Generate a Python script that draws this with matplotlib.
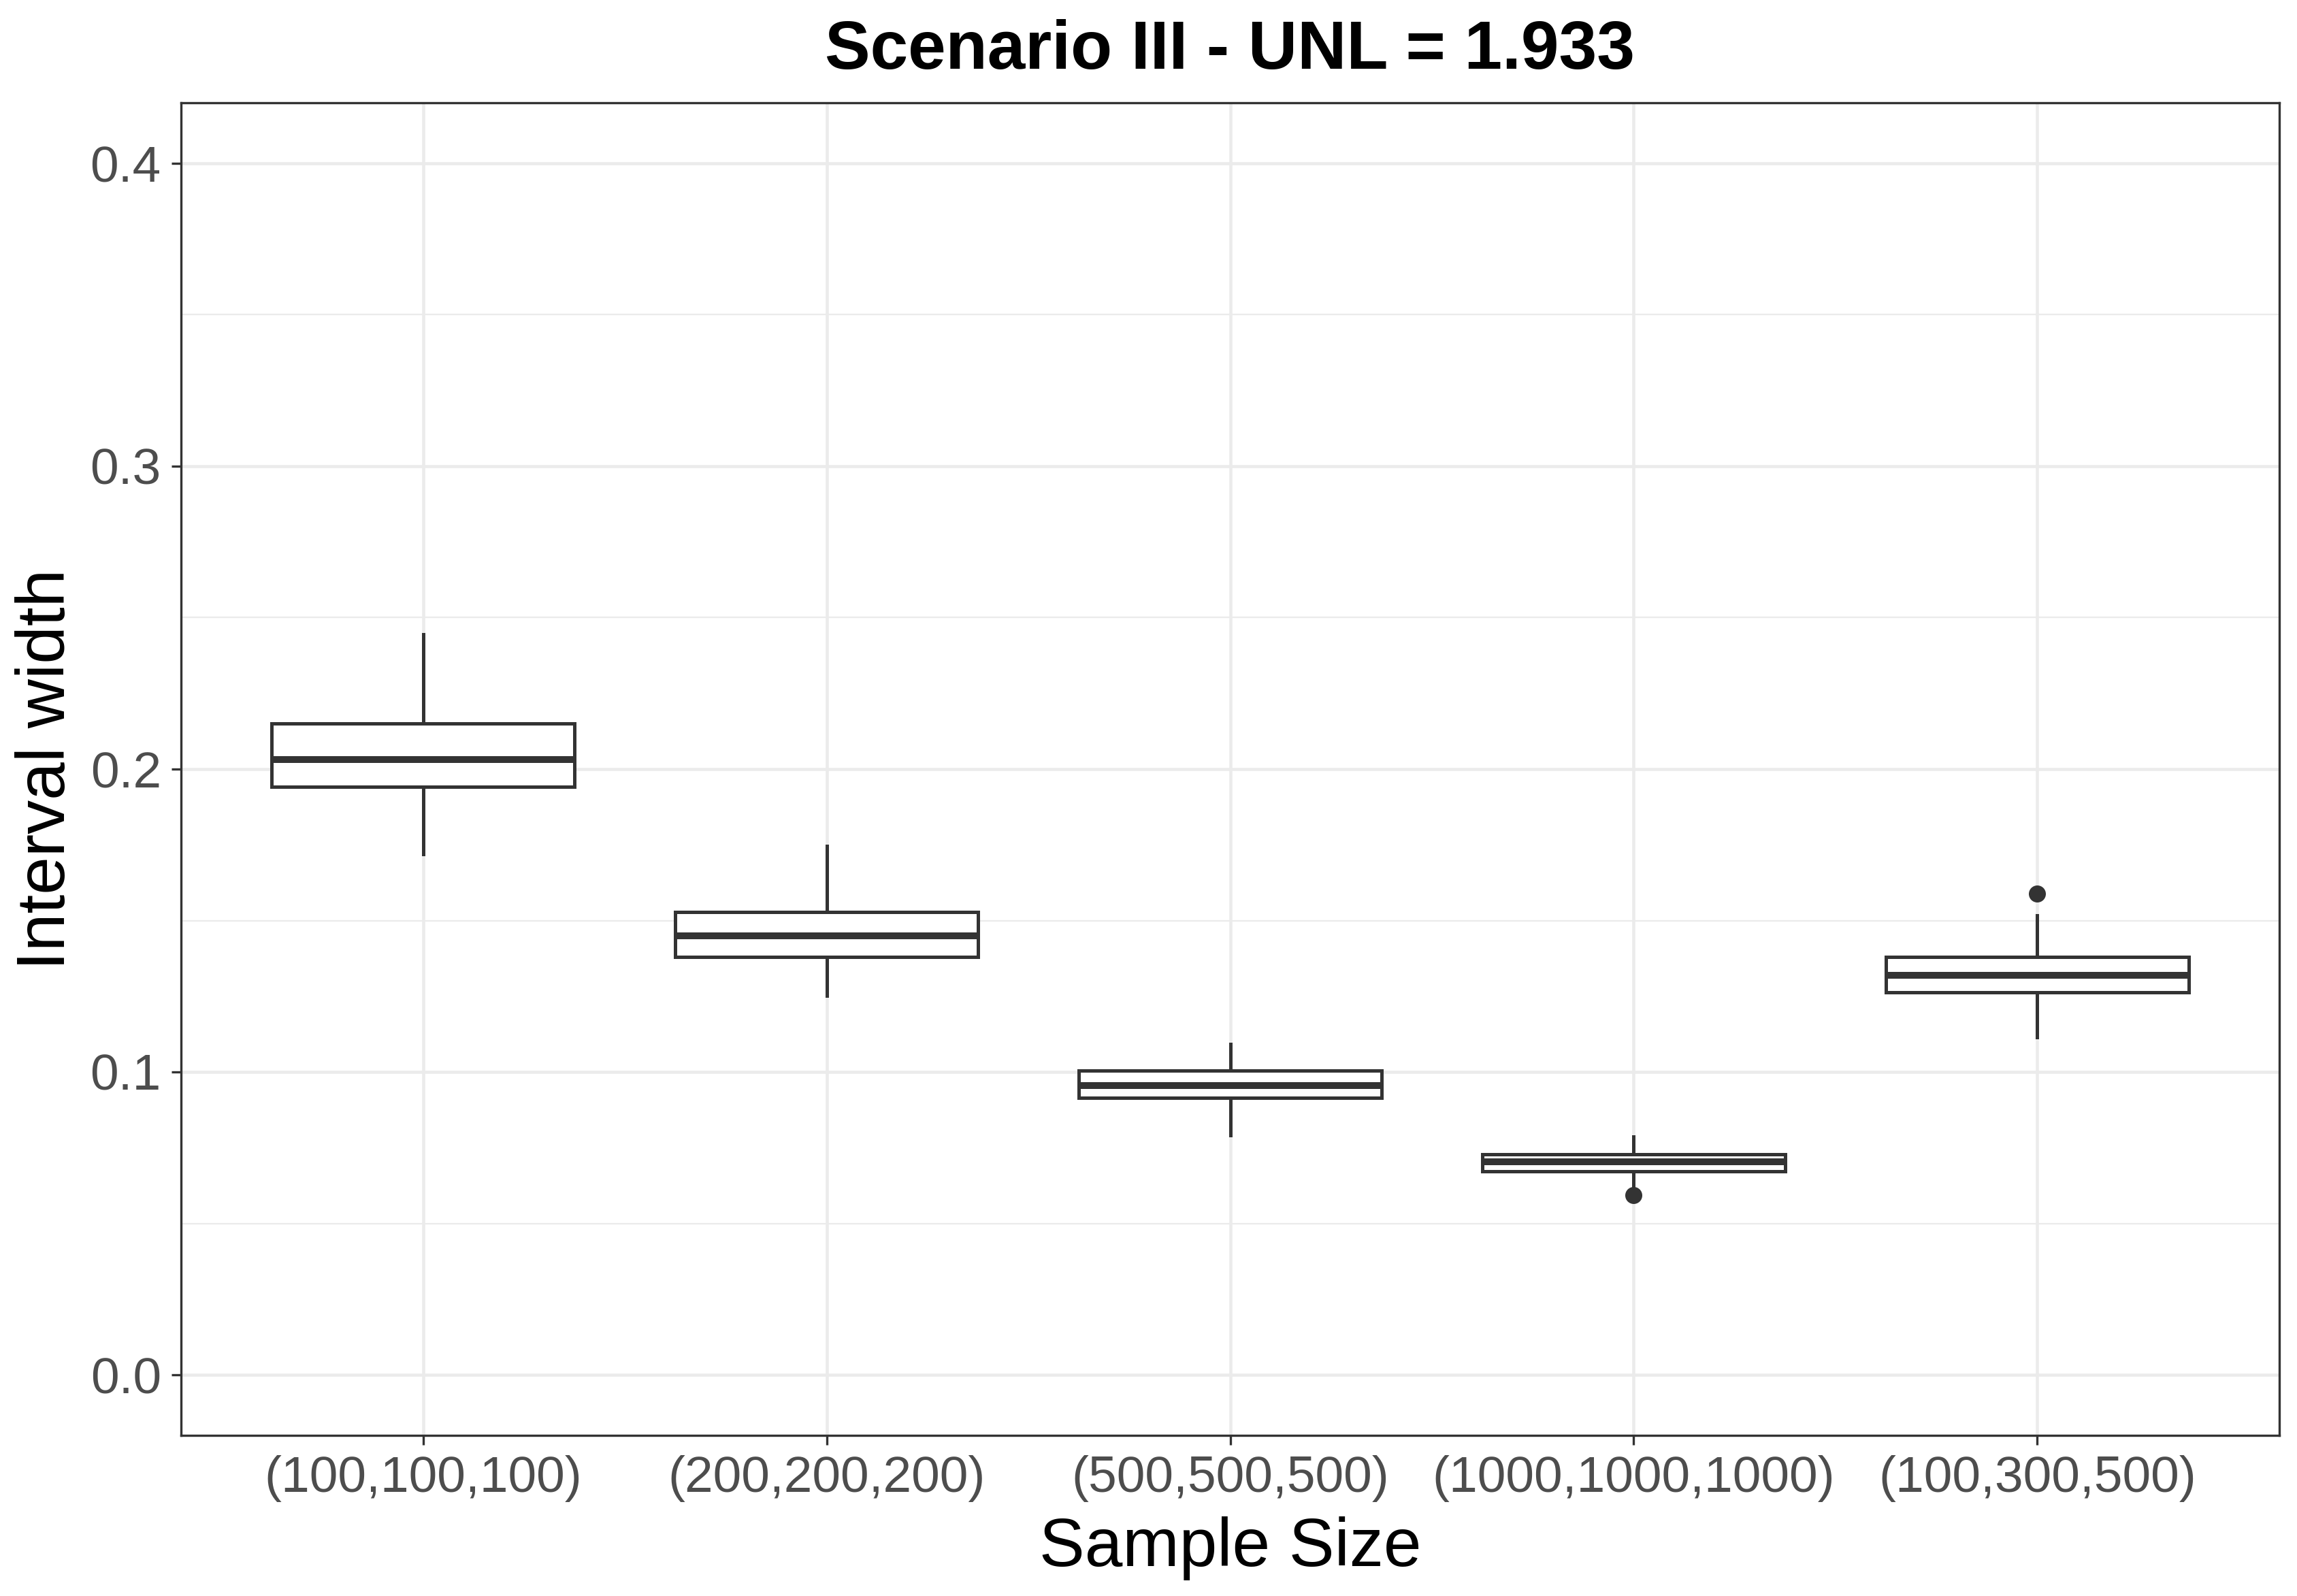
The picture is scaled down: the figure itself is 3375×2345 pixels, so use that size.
import matplotlib
matplotlib.use("Agg")
import matplotlib.pyplot as plt
from matplotlib.ticker import MultipleLocator

plt.rcParams['font.family'] = ['Liberation Sans', 'DejaVu Sans']

categories = ["(100,100,100)", "(200,200,200)", "(500,500,500)", "(1000,1000,1000)", "(100,300,500)"]
whisker_low = [0.1720, 0.1252, 0.0791, 0.0616, 0.1115]
q1 = [0.1941, 0.1379, 0.0915, 0.0673, 0.1264]
median = [0.2031, 0.1449, 0.0956, 0.0704, 0.1319]
q3 = [0.2150, 0.1527, 0.1005, 0.0727, 0.1379]
whisker_high = [0.2446, 0.1745, 0.1093, 0.0786, 0.1516]
outliers = [[], [], [], [0.0593], [0.1589]]

title = "Scenario III - UNL = 1.933"
xlabel = "Sample Size"
ylabel = "Interval width"
yticks = [0.0, 0.1, 0.2, 0.3, 0.4]

dark = "#333333"
grid = "#EBEBEB"

fig = plt.figure(figsize=(3375/300, 2345/300), dpi=300)
ax = fig.add_axes([266/3375, 1-2109/2345, (3349-266)/3375, (2109-151)/2345])

stats = []
for i, c in enumerate(categories):
    stats.append(dict(label=c, whislo=whisker_low[i], q1=q1[i], med=median[i],
                      q3=q3[i], whishi=whisker_high[i], fliers=outliers[i]))

positions = list(range(1, len(categories)+1))
ax.bxp(stats, positions=positions, widths=0.75, showcaps=False, patch_artist=True,
       boxprops=dict(facecolor="white", edgecolor=dark, linewidth=1.2),
       medianprops=dict(color=dark, linewidth=2.4, solid_capstyle='butt'),
       whiskerprops=dict(color=dark, linewidth=1.2),
       flierprops=dict(marker='o', markerfacecolor=dark, markeredgecolor=dark,
                       markersize=5.0, linestyle='none'),
       zorder=3)

ax.set_xlim(0.4, len(categories)+0.6)
ax.set_ylim(-0.02, 0.42)
ax.set_yticks(yticks)
ax.set_yticklabels([f"{v:.1f}" for v in yticks])
ax.yaxis.set_minor_locator(MultipleLocator(0.05))
ax.set_xticks(positions)
ax.set_xticklabels(categories)

ax.grid(True, which='major', color=grid, linewidth=1.1, zorder=0)
ax.grid(True, which='minor', axis='y', color=grid, linewidth=0.55, zorder=0)
ax.set_axisbelow(True)
ax.tick_params(axis='both', which='major', length=3.4, width=0.8, color=dark,
               labelsize=18, labelcolor="#4D4D4D", pad=3.6)
ax.tick_params(axis='both', which='minor', length=0)
for s in ax.spines.values():
    s.set_color(dark)
    s.set_linewidth(0.8)

ax.set_title(title, fontsize=24, fontweight='bold', pad=12)
ax.set_xlabel(xlabel, fontsize=24, labelpad=5)
ax.set_ylabel(ylabel, fontsize=24, labelpad=4)

fig.savefig("out.png", dpi=300)
